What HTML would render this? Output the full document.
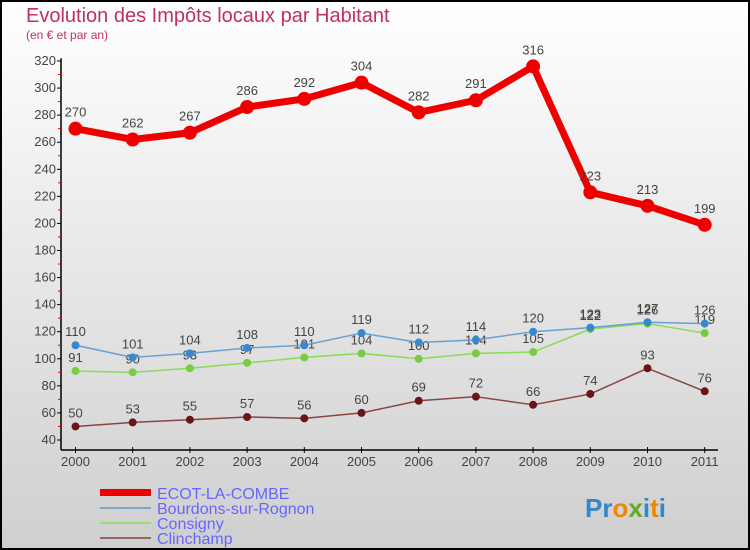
<!DOCTYPE html>
<html><head><meta charset="utf-8"><style>
body{margin:0}
#c{width:750px;height:550px;position:relative;overflow:hidden;box-sizing:border-box;border:2px solid #000;background:linear-gradient(#ffffff,#cfcfcf);font-family:"Liberation Sans",sans-serif}
</style></head><body>
<div id="c">
<svg id="s" width="750" height="550" style="position:absolute;left:-2px;top:-2px">
<text x="26" y="22" font-size="20" fill="#c0305a">Evolution des Impôts locaux par Habitant</text>
<text x="26" y="39" font-size="12" fill="#c0305a">(en € et par an)</text>
<g id="axes"></g><g id="series"></g>
<g font-size="16" fill="#6666ff">
<rect x="100" y="489" width="51" height="7" fill="#ee0000"/>
<text x="157" y="499">ECOT-LA-COMBE</text>
<rect x="100" y="507" width="51" height="2" fill="#7aa8cc"/>
<text x="157" y="514">Bourdons-sur-Rognon</text>
<rect x="100" y="522" width="51" height="2" fill="#99dd77"/>
<text x="157" y="529">Consigny</text>
<rect x="100" y="537" width="51" height="2" fill="#996666"/>
<text x="157" y="544">Clinchamp</text>
</g>
<text x="585" y="517" font-size="26" font-weight="bold"><tspan fill="#3388cc">Pr</tspan><tspan fill="#ee8800">o</tspan><tspan fill="#66aa22">x</tspan><tspan fill="#3388cc">i</tspan><tspan fill="#ee8800">t</tspan><tspan fill="#3388cc">i</tspan></text>
</svg>
</div>
<script>
const years=["2000","2001","2002","2003","2004","2005","2006","2007","2008","2009","2010","2011"];
const yTicks=[40,60,80,100,120,140,160,180,200,220,240,260,280,300,320];
const ecot=[270,262,267,286,292,304,282,291,316,223,213,199];
const bourdons=[110,101,104,108,110,119,112,114,120,123,127,126];
const consigny=[91,90,93,97,101,104,100,104,105,122,126,119];
const clinchamp=[50,53,55,57,56,60,69,72,66,74,93,76];
const NS="http://www.w3.org/2000/svg";
const X=i=>75.5+i*57.2;
const Y=v=>440-(v-40)*1.3536;
function mk(t,a,p){const e=document.createElementNS(NS,t);for(const k in a)e.setAttribute(k,a[k]);p.appendChild(e);return e;}
const ax=document.getElementById('axes');
let l=mk('line',{x1:61,y1:Y(322),x2:61,y2:450,stroke:'#000','stroke-width':1.5},ax);


l=mk('line',{x1:61,y1:450,x2:718,y2:450,stroke:'#000','stroke-width':1.5},ax);


yTicks.forEach(v=>{
 mk('line',{x1:57,x2:61,y1:Y(v),y2:Y(v),stroke:'#000'},ax);
 if(v<320)mk('line',{x1:58,x2:61,y1:Y(v+10),y2:Y(v+10),stroke:'#e00'},ax);
 const t=mk('text',{x:56,y:Y(v)+4,'text-anchor':'end','font-size':13,fill:'#444'},ax);
 t.textContent=v;
 
 
});
years.forEach((y,i)=>{
 mk('line',{x1:X(i),x2:X(i),y1:447,y2:453,stroke:'#000'},ax);
 const t=mk('text',{x:X(i),y:466,'text-anchor':'middle','font-size':13,fill:'#444'},ax);
 t.textContent=y;
 
 
});
const sg=document.getElementById('series');
function draw(data,name,color,dot,w,r){
 const g=mk('g',{},sg);
 
 
 const p=mk('polyline',{points:data.map((v,i)=>X(i)+','+Y(v)).join(' '),fill:'none',stroke:color,'stroke-width':w,'stroke-linejoin':'round'},g);
 
 
 data.forEach((v,i)=>{
  const c=mk('circle',{cx:X(i),cy:Y(v),r:r,fill:dot},g);
  
  
  const t=mk('text',{x:X(i),y:Y(v)-(r+5),'text-anchor':'middle','font-size':13,fill:'#444'},g);
  t.textContent=v;
  
  
 });
}
draw(clinchamp,'clinchamp','#8a4444','#6a1515',1.5,4);
draw(consigny,'consigny','#88dd55','#77cc44',1.5,4);
draw(bourdons,'bourdons','#6aa0d0','#3a88cc',1.5,4);
draw(ecot,'ecot','#ee0000','#ee0000',7,7);
</script>
</body></html>
